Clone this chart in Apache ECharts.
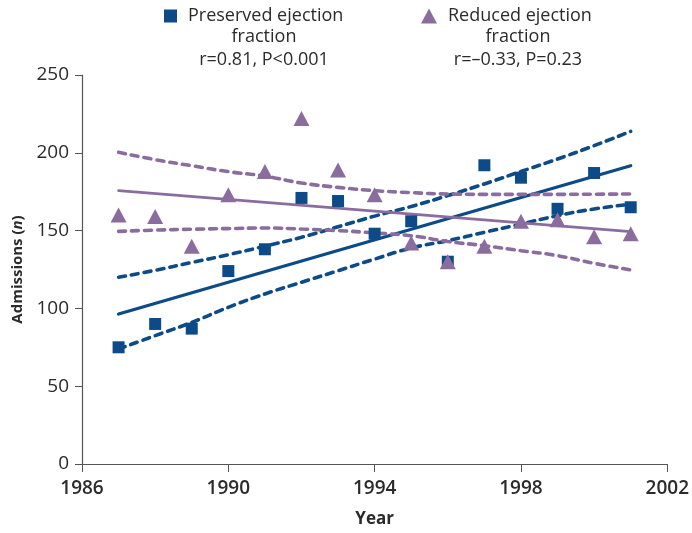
<!DOCTYPE html>
<html>
<head>
<meta charset="utf-8">
<script src="https://cdn.jsdelivr.net/npm/echarts@6/dist/echarts.min.js"></script>
<style>html,body{margin:0;padding:0;background:#fff}#c{width:692px;height:533px}</style>
</head>
<body>
<div id="c"></div>
<script>
// ---- Data ----
const years = [1987,1988,1989,1990,1991,1992,1993,1994,1995,1996,1997,1998,1999,2000,2001];
const preserved = [75,90,87,124,138,171,169,148,156,130,192,184,164,187,165];
const reduced = [160,159,140,173,188,222,189,173,142,130,140,156,157,146,148];
const fitYears = [1987, 2001];
const preservedFit = [96.4, 191.7];
const reducedFit = [175.7, 149.3];
const preservedUpper = [120,124.5,129.5,134.5,140,145.7,152.5,159.3,165.5,172.5,180,188,196,204.6,213.8];
const preservedLower = [73.9,82.5,91,100.7,109.3,116.8,124.2,131.7,138.8,143.5,148.9,154.2,159.6,163.9,166.9];
const reducedUpper = [200.3,195.6,191.7,187.9,185,180.6,177.8,175.7,174.4,173.5,173.3,173.3,173.3,173.4,173.5];
const reducedLower = [149.5,150.3,150.9,151.3,151.7,151,150,148.5,146.7,143,140.3,137.1,133.9,129,124.7];
const xTicks = {min: 1986, max: 2002, step: 4};
const yTicks = {min: 0, max: 250, step: 50};
const legendLines = {
  preserved: ['Preserved ejection', 'fraction', 'r=0.81, P<0.001'],
  reduced: ['Reduced ejection', 'fraction', 'r=\u20130.33, P=0.23']
};

const BLUE = '#0c4a88';
const PURPLE = '#8b6c9f';
const INK = '#2b2b2b';
const FONT = '"Open Sans", Lato, sans-serif';
const pair = (xs, ys) => xs.map((x, i) => [x, ys[i]]);

const legendText = {fontSize: 18, color: INK, fontFamily: FONT,
  rich: {a: {fontSize: 18, color: INK, fontFamily: FONT, padding: [0, 0, 0, 6]}}};

const dashed = color => ({color: color, width: 3.6, type: [7, 6], cap: 'round'});

const chart = echarts.init(document.getElementById('c'), null, {renderer: 'canvas'});
chart.setOption({
  animation: false,
  textStyle: {fontFamily: FONT},
  grid: {left: 82, right: 24, top: 75, bottom: 68},
  legend: [
    {data: ['Preserved'], left: 159, top: 2, itemWidth: 13, itemHeight: 13,
     formatter: () => '{a|' + legendLines.preserved[0] + '}',
     textStyle: legendText, selectedMode: false},
    {data: ['Reduced'], left: 416, top: 2, itemWidth: 16, itemHeight: 15,
     formatter: () => '{a|' + legendLines.reduced[0] + '}',
     textStyle: legendText, selectedMode: false}
  ],
  graphic: [
    {type: 'text', x: 264, y: 48, style: {text: legendLines.preserved[1] + '\n' + legendLines.preserved[2],
      align: 'center', verticalAlign: 'middle', font: '18px ' + FONT, fill: INK, lineHeight: 23}},
    {type: 'text', x: 518, y: 48, style: {text: legendLines.reduced[1] + '\n' + legendLines.reduced[2],
      align: 'center', verticalAlign: 'middle', font: '18px ' + FONT, fill: INK, lineHeight: 23}}
  ],
  xAxis: {
    type: 'value', min: xTicks.min, max: xTicks.max, interval: xTicks.step,
    name: 'Year', nameLocation: 'middle', nameGap: 47,
    nameTextStyle: {fontSize: 17, fontWeight: 'bold', color: INK, fontFamily: FONT},
    axisLine: {lineStyle: {color: '#555', width: 1.2}},
    axisTick: {show: true, length: 8, lineStyle: {color: '#555'}},
    axisLabel: {fontSize: 19, fontWeight: 600, color: INK, margin: 15, fontFamily: FONT,
      formatter: v => String(v)},
    splitLine: {show: false}
  },
  yAxis: {
    type: 'value', min: yTicks.min, max: yTicks.max, interval: yTicks.step,
    name: 'Admissions ({i|n})', nameLocation: 'middle', nameGap: 56,
    nameTextStyle: {fontSize: 15, fontWeight: 'bold', color: INK, fontFamily: FONT,
      rich: {i: {fontStyle: 'italic', fontWeight: 'bold', fontSize: 15, color: INK, fontFamily: FONT}}},
    axisLine: {show: true, lineStyle: {color: '#555', width: 1.2}},
    axisTick: {show: true, length: 7, lineStyle: {color: '#555'}},
    axisLabel: {fontSize: 19, color: INK, margin: 13, fontFamily: FONT},
    splitLine: {show: false}
  },
  series: [
    {type: 'line', data: pair(years, preservedUpper), symbol: 'none', smooth: true, z: 2, lineStyle: dashed(BLUE)},
    {type: 'line', data: pair(years, preservedLower), symbol: 'none', smooth: true, z: 2, lineStyle: dashed(BLUE)},
    {type: 'line', data: pair(fitYears, preservedFit), symbol: 'none', z: 2,
     lineStyle: {color: BLUE, width: 3.3, cap: 'round'}},
    {type: 'line', data: pair(years, reducedUpper), symbol: 'none', smooth: true, z: 2, lineStyle: dashed(PURPLE)},
    {type: 'line', data: pair(years, reducedLower), symbol: 'none', smooth: true, z: 2, lineStyle: dashed(PURPLE)},
    {type: 'line', data: pair(fitYears, reducedFit), symbol: 'none', z: 2,
     lineStyle: {color: PURPLE, width: 2.8, cap: 'round'}},
    {name: 'Preserved', type: 'scatter', data: pair(years, preserved), symbol: 'rect', symbolSize: 12, z: 5,
     itemStyle: {color: BLUE, opacity: 1}},
    {name: 'Reduced', type: 'scatter', data: pair(years, reduced), symbol: 'triangle', symbolSize: [16, 15], z: 6,
     itemStyle: {color: PURPLE, opacity: 1}}
  ]
});
</script>
</body>
</html>
